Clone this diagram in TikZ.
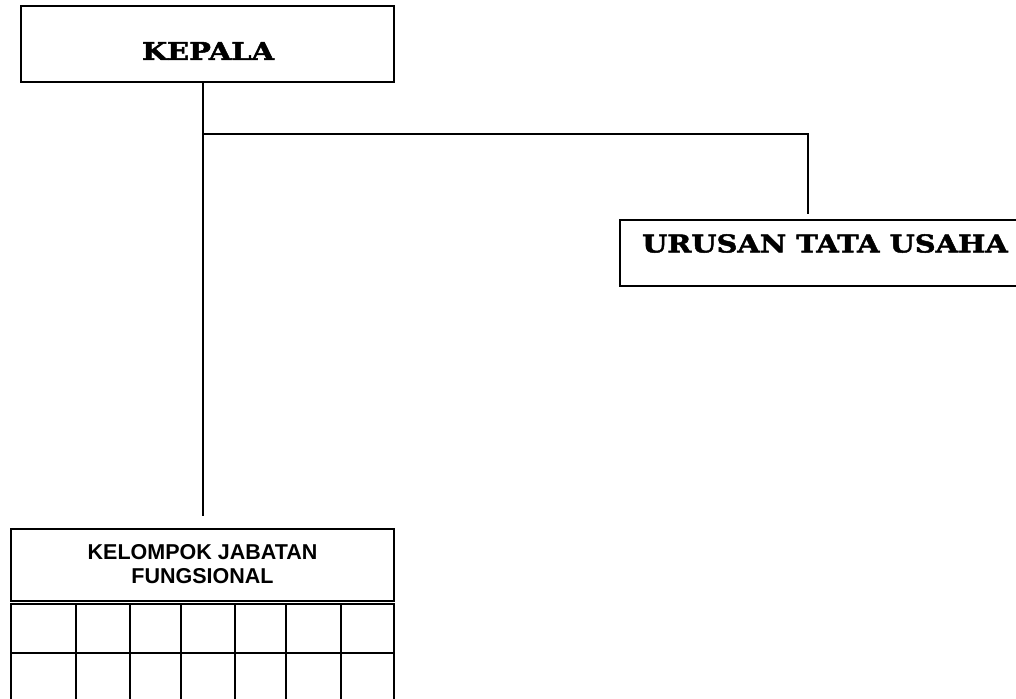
\documentclass[tikz,border=0pt]{standalone}
\usepackage{fontspec}
\newfontfamily\headfont{DejaVu Serif Bold}[FakeStretch=1.18, FakeBold=2]
\newfontfamily\armfont{Liberation Sans Bold}
\begin{document}
\begin{tikzpicture}[x=1pt,y=-1pt,
  box/.style={draw=black, line width=1.9pt, inner sep=0pt},
  conn/.style={draw=black, line width=1.7pt},
  headtext/.style={font=\headfont\fontsize{24.5}{28}\selectfont, inner sep=0pt},
  fungtext/.style={font=\armfont\fontsize{21.5}{24}\selectfont, align=center, inner sep=0pt},
  cell/.style={draw=black, line width=1.9pt}]
\useasboundingbox (0,0) rectangle (1016,698);
\clip (0,0) rectangle (1016,698);
\fill[white] (0,0) rectangle (1016,698);
% KEPALA
\node[box, minimum width=373pt, minimum height=76pt] (kepala) at (207.5,44) {};
\node[headtext] (kepalatxt) at (208,51) {KEPALA};
% URUSAN TATA USAHA
\node[box, minimum width=410pt, minimum height=66pt] (urusan) at (825,253) {};
\node[headtext] (urusantxt) at (825,243.5) {URUSAN TATA USAHA};
% KELOMPOK JABATAN FUNGSIONAL
\node[box, minimum width=383pt, minimum height=72pt] (fung) at (202.5,565) {};
\node[fungtext] (fungtxt) at (202.5,564) {KELOMPOK JABATAN\\FUNGSIONAL};
% grid
\foreach \xa/\xb [count=\i] in {11/76,76/130,130/181,181/235,235/286,286/341,341/394}{
  \node[cell, minimum width={(\xb-\xa)*1pt}, minimum height=49pt, inner sep=0pt] (cA\i) at ({(\xa+\xb)/2},628.5) {};
  \node[cell, minimum width={(\xb-\xa)*1pt}, minimum height=49pt, inner sep=0pt] (cB\i) at ({(\xa+\xb)/2},677.5) {};
}
% connectors
\coordinate (topj) at (203,82);
\coordinate (junc) at (203,134);
\coordinate (corner) at (808,134);
\coordinate (uend) at (808,214);
\coordinate (fend) at (203,516);
\draw[conn] (topj) -- (fend);
\draw[conn] (junc) -- (corner) -- (uend);
\end{tikzpicture}
\end{document}
